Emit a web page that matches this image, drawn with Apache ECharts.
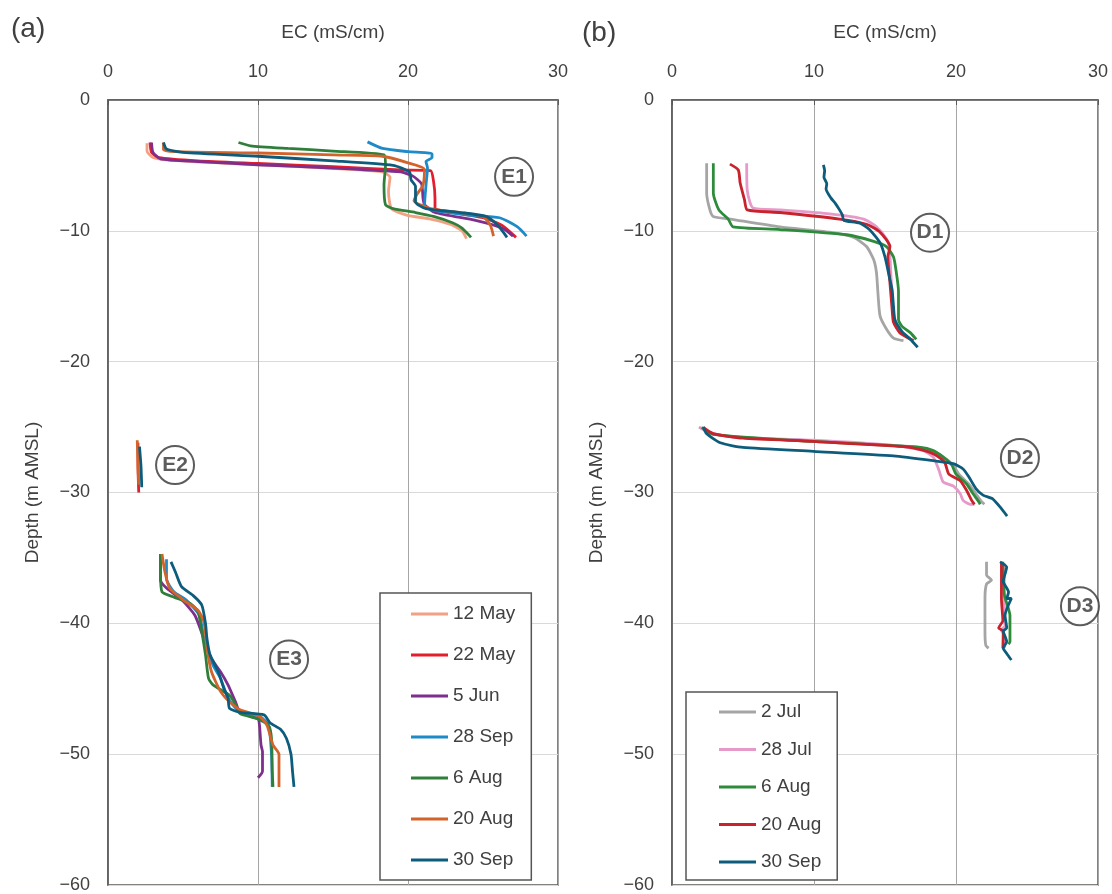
<!DOCTYPE html>
<html>
<head>
<meta charset="utf-8">
<script src="https://cdn.jsdelivr.net/npm/echarts@6/dist/echarts.min.js"></script>
<style>
html,body{margin:0;padding:0;background:#fff;}
#chart{width:1112px;height:894px;}
</style>
</head>
<body>
<div id="chart"></div>
<script>
// ---------- tick labels ----------
const xTicks = [0, 10, 20, 30];
const yTicks = [0, -10, -20, -30, -40, -50, -60];

// ---------- panel (a): legend names & colours ----------
const namesA = ['12 May', '22 May', '5 Jun', '28 Sep', '6 Aug', '20 Aug', '30 Sep'];
const colorsA = ['#F2A283', '#E31E2D', '#7E2F8E', '#1F8AC8', '#2F7F3B', '#D2642B', '#0E5C7C'];

// ---------- panel (b): legend names & colours ----------
const namesB = ['2 Jul', '28 Jul', '6 Aug', '20 Aug', '30 Sep'];
const colorsB = ['#A5A5A5', '#E59AC9', '#2E8B3C', '#C8232C', '#0E5C7C'];

// ---------- panel (a) profiles [EC, depth] ----------
const E1_12May = [[2.6,-3.3],[2.6,-3.9],[3.0,-4.4],[4,-4.6],[8,-4.85],[12,-5.05],[16,-5.3],[18.3,-5.5],[18.8,-5.9],[18.7,-7.0],[18.9,-8.3],[19.9,-8.8],[21.5,-9.1],[22.8,-9.5],[23.6,-10.0],[23.9,-10.6]];
const E1_22May = [[2.8,-3.25],[2.9,-4.0],[3.4,-4.4],[6,-4.65],[10,-4.85],[15,-5.1],[19.5,-5.35],[21.5,-5.4],[21.7,-6.2],[21.8,-7.5],[21.8,-8.3],[22.5,-8.5],[25.0,-9.0],[26.3,-9.6],[27.2,-10.5]];
const E1_5Jun = [[2.9,-3.25],[3.0,-4.0],[3.5,-4.5],[6,-4.7],[10,-4.95],[15,-5.2],[19.5,-5.5],[20.3,-5.8],[20.9,-6.4],[21.0,-7.5],[21.1,-8.0],[21.8,-8.6],[24.5,-9.2],[26.3,-9.8],[27.0,-10.4]];
const E1_28Sep = [[17.3,-3.2],[18.3,-3.7],[20,-3.95],[21.6,-4.1],[21.6,-4.4],[21.2,-4.7],[21.3,-5.2],[21.2,-6.5],[21.1,-8.1],[21.6,-8.4],[24,-8.8],[26.1,-9.0],[27.3,-9.7],[27.9,-10.4]];
const E1_6Aug = [[8.7,-3.25],[9.5,-3.5],[12,-3.7],[15,-3.9],[18.4,-4.2],[18.5,-5.0],[18.4,-6.5],[18.5,-8.0],[19.0,-8.3],[20.5,-8.6],[21.7,-8.9],[23.0,-9.4],[23.6,-9.8],[24.2,-10.5]];
const E1_20Aug = [[3.7,-3.25],[3.7,-3.8],[4.5,-3.95],[10,-4.05],[15,-4.2],[18.3,-4.3],[20,-4.8],[21.1,-5.3],[21.0,-6.5],[20.6,-7.2],[20.4,-7.7],[21.5,-8.3],[23.5,-8.6],[25.0,-8.9],[25.5,-9.6],[25.7,-10.4]];
const E1_30Sep = [[3.7,-3.25],[3.9,-3.75],[5,-4.0],[10,-4.3],[15,-4.65],[19.0,-5.0],[20.1,-5.5],[20.2,-6.1],[20.5,-6.6],[20.5,-7.8],[21.2,-8.3],[23.5,-8.6],[25.2,-8.9],[26.0,-9.6],[26.6,-10.5]];

const E2_22May = [[2.0,-26.2],[2.0,-28.0],[2.05,-30.0]];
const E2_20Aug = [[1.95,-26.0],[2.0,-28.0],[2.05,-29.4]];
const E2_30Sep = [[2.1,-26.5],[2.2,-28.0],[2.25,-29.6]];

const E3_5Jun = [[3.5,-34.7],[3.5,-36.7],[3.9,-37.3],[5.0,-38.3],[5.8,-39.4],[6.4,-41.2],[6.9,-42.7],[7.5,-43.7],[8.0,-44.7],[8.5,-46.0],[8.8,-46.8],[10.0,-47.3],[10.1,-47.8],[10.2,-49.3],[10.3,-49.8],[10.3,-51.3],[10.0,-51.8]];
const E3_28Sep = [[3.9,-35.1],[3.9,-36.6],[4.4,-37.6],[5.2,-38.2],[6.1,-39.4],[6.4,-41.2],[7.0,-43.2],[7.5,-44.2],[8.0,-45.7],[8.8,-46.8],[10.1,-47.1],[10.7,-47.8],[10.9,-50.0],[10.95,-52.5]];
const E3_6Aug = [[3.5,-34.7],[3.5,-36.1],[3.6,-37.6],[4.4,-38.0],[5.5,-38.5],[6.0,-39.1],[6.25,-40.6],[6.5,-42.4],[6.7,-44.2],[7.0,-44.7],[8.1,-45.5],[8.5,-46.2],[8.8,-46.9],[10.0,-47.3],[10.7,-47.8],[10.9,-48.8],[10.95,-51.3],[11.0,-52.5]];
const E3_20Aug = [[3.6,-34.7],[3.8,-36.1],[4.1,-37.3],[5.0,-38.2],[6.0,-39.0],[6.4,-39.9],[6.6,-41.9],[6.9,-43.7],[7.5,-45.2],[8.1,-46.0],[8.8,-46.6],[10.1,-47.1],[10.6,-47.8],[11.0,-49.3],[11.4,-50.0],[11.4,-52.5]];
const E3_30Sep = [[4.2,-35.3],[4.5,-36.1],[4.9,-37.2],[5.7,-37.9],[6.25,-38.6],[6.5,-40.0],[6.6,-41.2],[6.8,-42.4],[7.35,-43.7],[7.7,-44.9],[8.0,-45.7],[8.1,-46.5],[8.8,-46.8],[10.4,-47.0],[10.8,-47.6],[11.5,-48.1],[11.9,-48.8],[12.2,-50.0],[12.3,-51.3],[12.4,-52.5]];

// ---------- panel (b) profiles [EC, depth] ----------
const D1_2Jul = [[2.44,-4.83],[2.44,-7.1],[2.67,-8.4],[2.9,-8.9],[4.1,-9.1],[7.6,-9.7],[11.1,-10.1],[12.8,-10.5],[13.7,-11.2],[14.2,-12.2],[14.4,-13.2],[14.5,-14.7],[14.65,-16.5],[15.1,-17.5],[15.6,-18.2],[16.3,-18.4]];
const D1_28Jul = [[5.26,-4.83],[5.3,-6.9],[5.7,-8.25],[7.6,-8.4],[11.1,-8.7],[13.5,-9.1],[14.4,-9.7],[15.1,-10.6],[15.3,-11.2],[15.4,-13.0],[15.5,-15.0],[15.7,-17.0],[16.2,-17.8],[17.0,-18.4]];
const D1_6Aug = [[2.91,-4.83],[2.91,-7.1],[3.3,-8.4],[3.96,-9.1],[4.3,-9.7],[7.6,-9.9],[12.3,-10.3],[14.2,-10.8],[15.1,-11.2],[15.6,-12.0],[15.8,-13.2],[15.95,-14.6],[15.95,-16.8],[16.2,-17.3],[16.8,-17.8],[17.2,-18.3]];
const D1_20Aug = [[4.08,-4.9],[4.67,-5.35],[4.8,-6.35],[5.1,-7.6],[5.3,-8.4],[7.6,-8.6],[11.8,-9.1],[13.7,-9.5],[14.65,-10.1],[15.35,-11.2],[15.2,-12.0],[15.35,-14.0],[15.5,-16.0],[15.6,-17.0],[16.05,-17.8],[17.0,-18.4]];
const D1_30Sep = [[10.66,-4.95],[10.75,-5.4],[10.7,-5.9],[10.9,-6.4],[10.85,-6.8],[11.2,-7.5],[11.5,-7.9],[11.8,-8.4],[12.0,-8.8],[12.1,-9.2],[13.2,-9.4],[13.9,-9.9],[14.65,-10.9],[15.0,-12.0],[15.3,-13.5],[15.5,-14.5],[15.6,-15.8],[15.7,-16.8],[16.2,-17.7],[16.8,-18.3],[17.3,-18.9]];

const D2_2Jul = [[1.9,-25.0],[2.8,-25.5],[5.0,-25.8],[9.95,-26.05],[15.6,-26.4],[17.6,-26.6],[19.0,-27.2],[19.8,-27.9],[20.2,-28.6],[20.9,-29.35],[21.4,-30.1],[21.8,-30.7],[22.0,-30.9]];
const D2_28Jul = [[1.97,-25.03],[2.9,-25.5],[5.0,-25.8],[9.95,-26.0],[15.6,-26.4],[17.7,-26.8],[18.4,-27.3],[18.8,-28.3],[19.1,-29.2],[19.8,-29.5],[20.3,-30.1],[20.5,-30.6],[21.0,-30.9],[21.3,-30.9]];
const D2_6Aug = [[2.1,-25.03],[2.9,-25.55],[9.95,-26.1],[17.5,-26.55],[18.4,-26.8],[19.1,-27.3],[19.7,-27.9],[20.0,-28.6],[20.75,-29.35],[21.2,-30.1],[21.6,-30.7],[21.7,-30.9]];
const D2_20Aug = [[2.2,-25.03],[2.9,-25.5],[5.0,-25.85],[9.95,-26.1],[16.3,-26.5],[17.8,-26.8],[18.5,-27.1],[19.2,-27.7],[19.5,-28.6],[20.3,-29.1],[20.75,-29.85],[21.1,-30.6],[21.3,-30.9]];
const D2_30Sep = [[2.2,-25.0],[2.44,-25.5],[3.4,-26.2],[5.0,-26.55],[9.95,-26.85],[15.6,-27.2],[18.6,-27.6],[19.8,-27.8],[20.5,-28.2],[20.9,-28.8],[21.4,-29.7],[21.9,-30.2],[22.6,-30.5],[23.1,-31.1],[23.6,-31.8]];

const D3_2Jul = [[22.15,-35.3],[22.15,-36.3],[22.5,-36.7],[22.15,-37.0],[22.04,-38.1],[22.04,-40.6],[22.1,-41.7],[22.3,-41.9]];
const D3_28Jul = [[23.4,-35.4],[23.4,-38.0],[23.45,-40.2],[23.2,-40.5],[23.45,-41.0],[23.4,-41.9]];
const D3_6Aug = [[23.3,-35.3],[23.4,-37.8],[23.8,-39.4],[23.8,-41.4],[23.7,-41.6]];
const D3_20Aug = [[23.2,-35.3],[23.2,-38.1],[23.3,-39.8],[23.0,-40.35],[23.33,-40.6],[23.3,-41.9]];
const D3_30Sep = [[23.1,-35.3],[23.57,-35.7],[23.33,-36.8],[23.7,-37.6],[23.57,-38.1],[23.9,-38.1],[23.45,-39.4],[23.57,-40.35],[23.33,-40.6],[23.57,-41.4],[23.33,-41.9],[23.57,-42.3],[23.9,-42.8]];

// ---------- site labels [EC, depth] ----------
const sitesA = [['E1', 27.07, -5.87], ['E2', 4.47, -27.9], ['E3', 12.07, -42.76]];
const sitesB = [['D1', 18.17, -10.14], ['D2', 24.5, -27.36], ['D3', 28.73, -38.7]];

// ---------- series lists (date index -> segments) ----------
const segA = [
  [E1_12May],
  [E1_22May, E2_22May],
  [E1_5Jun, E3_5Jun],
  [E1_28Sep, E3_28Sep],
  [E1_6Aug, E3_6Aug],
  [E1_20Aug, E2_20Aug, E3_20Aug],
  [E1_30Sep, E2_30Sep, E3_30Sep]
];
const segB = [
  [D1_2Jul, D2_2Jul, D3_2Jul],
  [D1_28Jul, D2_28Jul, D3_28Jul],
  [D1_6Aug, D2_6Aug, D3_6Aug],
  [D1_20Aug, D2_20Aug, D3_20Aug],
  [D1_30Sep, D2_30Sep, D3_30Sep]
];

const FONT = "'Liberation Sans', Arial, sans-serif";
const TXT = '#404040';

const series = [];
function addSeries(prefix, names, colors, segs, axisIdx) {
  names.forEach((nm, i) => {
    segs[i].forEach(seg => {
      series.push({
        type: 'line',
        name: prefix + nm,
        xAxisIndex: axisIdx, yAxisIndex: axisIdx,
        data: seg,
        showSymbol: false, symbol: 'none',
        smooth: 0.2,
        color: colors[i],
        lineStyle: { width: 2.8, color: colors[i] },
        silent: true
      });
    });
  });
}
addSeries('a:', namesA, colorsA, segA, 0);
addSeries('b:', namesB, colorsB, segB, 1);

function siteSeries(sites, axisIdx) {
  return {
    type: 'scatter', xAxisIndex: axisIdx, yAxisIndex: axisIdx,
    symbol: 'circle', symbolSize: 38, silent: true, z: 5,
    itemStyle: { color: '#fff', borderColor: '#333', borderWidth: 2 },
    label: { show: true, position: 'inside', formatter: '{b}', fontFamily: FONT, fontSize: 21, fontWeight: 'bold', color: '#333' },
    data: sites.map(s => ({ name: s[0], value: [s[1], s[2]] }))
  };
}
series.push(siteSeries(sitesA, 0));
series.push(siteSeries(sitesB, 1));

function xAxis(gridIndex) {
  return {
    type: 'value', gridIndex, position: 'top', min: 0, max: 30, interval: 10,
    name: 'EC (mS/cm)', nameLocation: 'middle', nameGap: 58,
    nameTextStyle: { fontFamily: FONT, fontSize: 19, color: TXT },
    axisLine: { show: true, onZero: false, lineStyle: { color: '#595959', width: 1.5 } },
    axisTick: { show: true, inside: true, length: 5, lineStyle: { color: '#595959' } },
    axisLabel: { fontFamily: FONT, fontSize: 18, color: TXT, margin: 19,
      formatter: v => xTicks.includes(v) ? String(v) : '' },
    splitLine: { show: true, lineStyle: { color: '#A6A6A6', width: 1 } }
  };
}
function yAxis(gridIndex) {
  return {
    type: 'value', gridIndex, min: -60, max: 0, interval: 10,
    name: 'Depth (m AMSL)', nameLocation: 'middle', nameGap: 66, nameRotate: 90,
    nameTextStyle: { fontFamily: FONT, fontSize: 19, color: TXT },
    axisLine: { show: true, onZero: false, lineStyle: { color: '#595959', width: 1.5 } },
    axisTick: { show: false },
    axisLabel: { fontFamily: FONT, fontSize: 18, color: TXT, margin: 18,
      formatter: v => yTicks.includes(v) ? String(v).replace('-', '\u2212') : '' },
    splitLine: { show: true, lineStyle: { color: '#D9D9D9', width: 1 } }
  };
}

function legend(prefix, names, left, top, gap, pad) {
  return {
    show: true, orient: 'vertical', left, top,
    data: names.map(n => prefix + n),
    formatter: n => n.slice(2),
    icon: 'rect', itemWidth: 37, itemHeight: 3, itemGap: gap,
    selectedMode: false,
    padding: pad,
    backgroundColor: '#fff', borderColor: '#555', borderWidth: 1.5, borderRadius: 0,
    textStyle: { fontFamily: FONT, fontSize: 19, color: TXT, lineHeight: 22 }
  };
}

const chart = echarts.init(document.getElementById('chart'), null, { renderer: 'canvas' });
chart.setOption({
  animation: false,
  backgroundColor: '#fff',
  title: [
    { text: '(a)', left: 6, top: 10, textStyle: { fontFamily: FONT, fontSize: 28, fontWeight: 'normal', color: TXT } },
    { text: '(b)', left: 577, top: 14, textStyle: { fontFamily: FONT, fontSize: 28, fontWeight: 'normal', color: TXT } }
  ],
  grid: [
    { left: 108, top: 100, width: 450, height: 787, show: true, borderColor: '#595959', borderWidth: 1.5, backgroundColor: 'transparent' },
    { left: 672, top: 100, width: 426, height: 787, show: true, borderColor: '#595959', borderWidth: 1.5, backgroundColor: 'transparent' }
  ],
  xAxis: [xAxis(0), xAxis(1)],
  yAxis: [yAxis(0), yAxis(1)],
  legend: [
    legend('a:', namesA, 380, 593, 19, [10, 16, 9, 31]),
    legend('b:', namesB, 686, 692, 15.5, [9, 16, 7, 33])
  ],
  series
});
</script>
</body>
</html>
